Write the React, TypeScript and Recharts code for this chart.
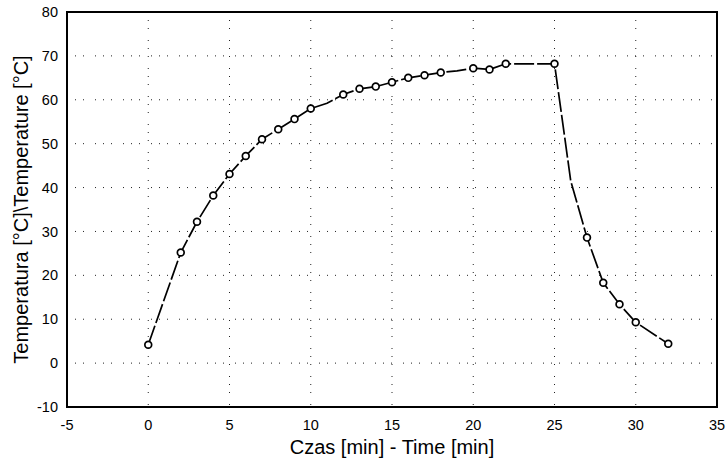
import React from 'react';
import { LineChart, Line, XAxis, YAxis, CartesianGrid, ReferenceArea, Label } from 'recharts';

const timeMin = [0, 2, 3, 4, 5, 6, 7, 8, 9, 10, 11, 12, 13, 14, 15, 16, 17, 18, 19, 20, 21, 22, 25, 26, 27, 28, 29, 30, 32];
const tempC = [4.2, 25.2, 32.2, 38.2, 43.1, 47.2, 51, 53.3, 55.6, 58, 59.2, 61.2, 62.5, 63, 64, 65, 65.6, 66.2, 66.6, 67.2, 66.9, 68.2, 68.2, 41.5, 28.6, 18.3, 13.4, 9.3, 4.4];
const hasMarker = [true, true, true, true, true, true, true, true, true, true, false, true, true, true, true, true, true, true, false, true, true, true, true, false, true, true, true, true, true];

const xTicks = [-5, 0, 5, 10, 15, 20, 25, 30, 35];
const yTicks = [-10, 0, 10, 20, 30, 40, 50, 60, 70, 80];

const xLabel = 'Czas [min] - Time [min]';
const yLabel = 'Temperatura [°C]\\Temperature [°C]';

const data = timeMin.map((t, i) => ({ t, temp: tempC[i], marker: hasMarker[i] }));

const FONT = 'Arial, "Liberation Sans", sans-serif';

const Dot = (props: any) => {
  const { cx, cy, payload } = props;
  if (!payload || !payload.marker || cx == null || cy == null) return <g />;
  return <circle cx={cx} cy={cy} r={3.4} fill="#fff" stroke="#000" strokeWidth={1.7} />;
};

export default function App() {
  return (
    <div style={{ position: 'absolute', left: 0, top: 0, background: '#fff' }}>
      <LineChart width={726} height={463} data={data} margin={{ top: 12, right: 9, bottom: 0, left: 0 }}>
        <CartesianGrid
          stroke="#222"
          strokeWidth={1}
          strokeDasharray="1 7 1 7 1 11"
          horizontalValues={yTicks}
          verticalValues={xTicks}
        />
        <XAxis
          dataKey="t"
          type="number"
          domain={[-5, 35]}
          ticks={xTicks}
          height={56}
          tickLine={false}
          tickSize={13}
          tickMargin={0}
          axisLine={{ stroke: '#000', strokeWidth: 2 }}
          tick={{ fill: '#000', fontSize: 14.5, fontFamily: FONT }}
          allowDataOverflow
        >
          <Label
            content={(p: any) => {
              const vb = p.viewBox || {};
              return (
                <text x={vb.x + vb.width / 2} y={vb.y + 47} textAnchor="middle" fontSize={20} fontFamily={FONT} fill="#000">
                  {xLabel}
                </text>
              );
            }}
          />
        </XAxis>
        <YAxis
          type="number"
          domain={[-10, 80]}
          ticks={yTicks}
          width={67}
          tickLine={false}
          tickSize={9}
          tickMargin={0}
          axisLine={{ stroke: '#000', strokeWidth: 2 }}
          tick={{ fill: '#000', fontSize: 14.5, fontFamily: FONT }}
          allowDataOverflow
        >
          <Label
            content={(p: any) => {
              const vb = p.viewBox || {};
              const cx = 28;
              const cy = vb.y + vb.height / 2;
              return (
                <text x={cx} y={cy} transform={`rotate(-90 ${cx} ${cy})`} textAnchor="middle" fontSize={20} fontFamily={FONT} fill="#000">
                  {yLabel}
                </text>
              );
            }}
          />
        </YAxis>
        <ReferenceArea x1={-5} x2={35} y1={-10} y2={80} fill="none" stroke="#000" strokeWidth={2} ifOverflow="extendDomain" />
        <Line
          type="linear"
          dataKey="temp"
          stroke="#000"
          strokeWidth={1.7}
          strokeDasharray="20 3"
          dot={<Dot />}
          activeDot={false}
          isAnimationActive={false}
        />
      </LineChart>
    </div>
  );
}
